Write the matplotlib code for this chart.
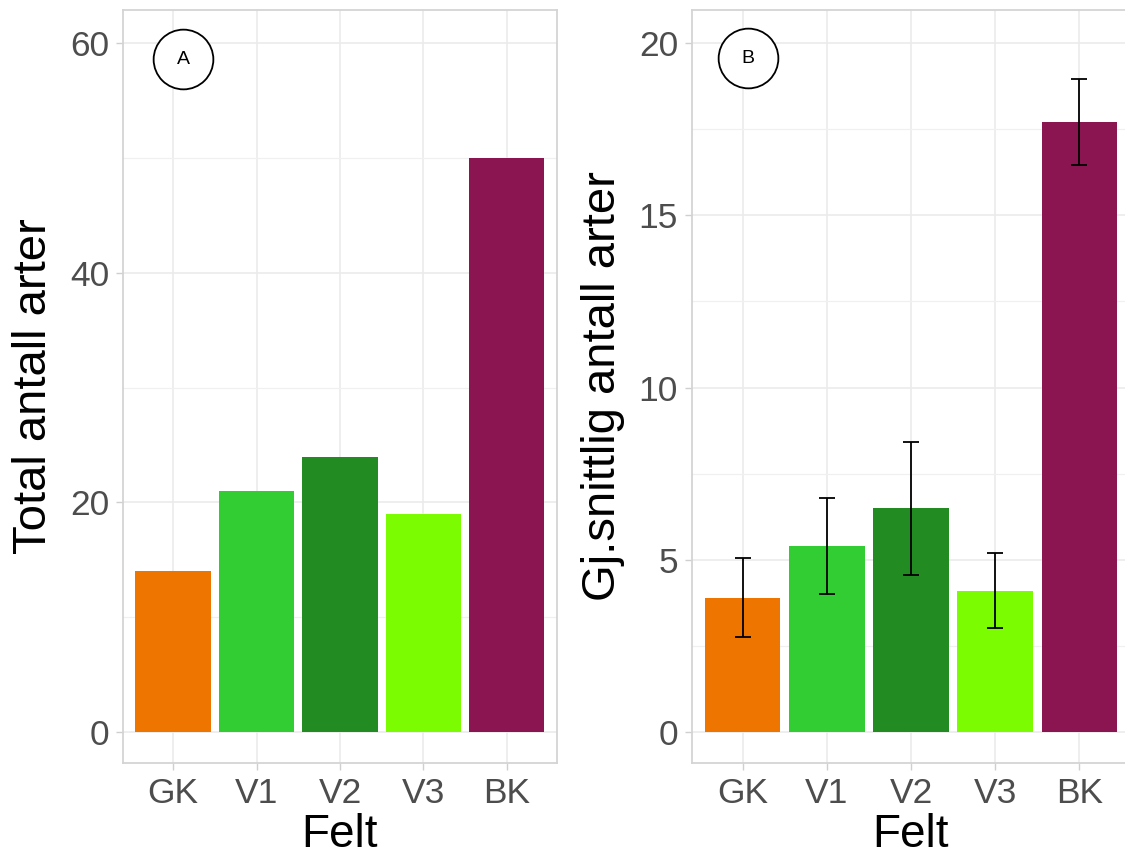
import matplotlib
matplotlib.use("Agg")
import matplotlib.pyplot as plt
from matplotlib.ticker import MultipleLocator
import numpy as np

plt.rcParams['font.family'] = ['Liberation Sans', 'DejaVu Sans']

# data
felt = ['GK', 'V1', 'V2', 'V3', 'BK']
colors = ['#EE7600', '#32CD32', '#228B22', '#7CFC00', '#8B1550']
total_arter = [14, 21, 24, 19, 50]
snitt_arter = [3.9, 5.4, 6.5, 4.1, 17.7]
snitt_se = [1.15, 1.4, 1.93, 1.09, 1.25]

# panel label positions (x index, y value)
label_a = (0.12, 58.6)
label_b = (0.06, 19.56)

TICK_SIZE = 25.5
TITLE_SIZE = 34
GRID_MAJOR = '#EBEBEB'
GRID_MINOR = '#F0F0F0'
BORDER = '#D4D4D4'

fig = plt.figure(figsize=(11.25, 8.61), dpi=100)
ax1 = fig.add_axes([0.1093, 0.1138, 0.3858, 0.8746])
ax2 = fig.add_axes([0.6151, 0.1138, 0.3893, 0.8746])


def style(ax, major, minor, ylim):
    x = np.arange(len(felt))
    ax.set_xlim(-0.6, len(felt) - 0.4)
    ax.set_ylim(*ylim)
    ax.set_xticks(x)
    ax.set_xticklabels(felt)
    ax.yaxis.set_major_locator(MultipleLocator(major))
    ax.yaxis.set_minor_locator(MultipleLocator(minor))
    ax.grid(True, which='major', color=GRID_MAJOR, lw=1.2, zorder=0)
    ax.grid(True, which='minor', axis='y', color=GRID_MINOR, lw=0.9, zorder=0)
    ax.set_axisbelow(True)
    for s in ax.spines.values():
        s.set_color(BORDER)
        s.set_linewidth(1.3)
    ax.tick_params(which='major', labelsize=TICK_SIZE, labelcolor='#4D4D4D',
                   color='#CFCFCF', length=5, width=1, pad=5)
    ax.tick_params(which='minor', length=0)
    ax.set_xlabel('Felt', fontsize=33, labelpad=2)


# A: total number of species
x = np.arange(len(felt))
ax1.bar(x, total_arter, width=0.9, color=colors, zorder=2)
style(ax1, 20, 10, (-2.7, 62.9))
ax1.set_ylabel('Total antall arter', fontsize=TITLE_SIZE, labelpad=10)
ax1.plot(*label_a, 'o', ms=43, mfc='white', mec='black', mew=1.3, zorder=3)
ax1.text(*label_a, 'A', ha='center', va='center', fontsize=14, zorder=4)

# B: mean number of species with error bars
ax2.bar(x, snitt_arter, width=0.9, color=colors, zorder=2)
ax2.errorbar(x, snitt_arter, yerr=snitt_se, fmt='none', ecolor='black',
             elinewidth=1.3, capsize=6, capthick=1.3, zorder=3)
style(ax2, 5, 2.5, (-0.9, 20.96))
ax2.set_ylabel('Gj.snittlig antall arter', fontsize=TITLE_SIZE, labelpad=10)
ax2.plot(*label_b, 'o', ms=43, mfc='white', mec='black', mew=1.3, zorder=4)
ax2.text(*label_b, 'B', ha='center', va='center', fontsize=14, zorder=5)

fig.savefig('out.png', dpi=100)
